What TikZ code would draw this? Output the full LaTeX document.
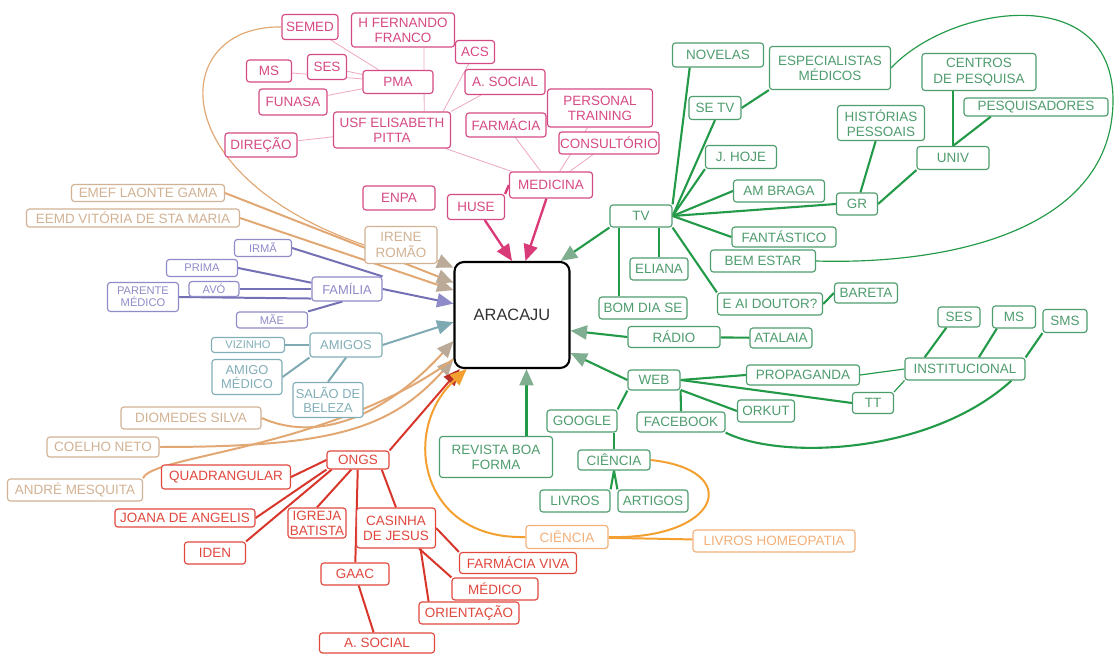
\documentclass[tikz,border=0pt]{standalone}
\usepackage{fontspec}
\setmainfont{Liberation Sans}
\usetikzlibrary{arrows.meta,backgrounds}

\definecolor{pinktext}{HTML}{D64A84}
\definecolor{pinkline}{HTML}{D93A78}
\definecolor{pinkpale}{HTML}{EDA9C2}
\definecolor{tantext}{HTML}{D2B294}
\definecolor{tanline}{HTML}{E2A874}
\definecolor{tanhead}{HTML}{BBAA98}
\definecolor{purpletext}{HTML}{8F8BC8}
\definecolor{purpleline}{HTML}{7470B5}
\definecolor{tealtext}{HTML}{82AEB8}
\definecolor{tealline}{HTML}{7FA9B3}
\definecolor{redtext}{HTML}{E0483E}
\definecolor{redline}{HTML}{D8352B}
\definecolor{orangetext}{HTML}{F2B07A}
\definecolor{orangeline}{HTML}{F3A030}
\definecolor{greentext}{HTML}{4F9C6E}
\definecolor{greenline}{HTML}{239A48}
\definecolor{greenhead}{HTML}{7FAE90}

\tikzset{
  box/.style={draw, rounded corners=2.5pt, fill=white, line width=1pt, align=center,
    inner xsep=1pt, inner ysep=1pt, font=\fontsize{11.5}{13}\selectfont},
  sz/.style 2 args={minimum width={#1*0.03cm}, minimum height={#2*0.03cm}},
  pinkbox/.style={box, draw=pinktext, text=pinktext},
  tanbox/.style={box, draw=tantext, text=tantext},
  purplebox/.style={box, draw=purpletext, text=purpletext, font=\fontsize{9.5}{10.5}\selectfont},
  tealbox/.style={box, draw=tealtext, text=tealtext, font=\fontsize{11}{12}\selectfont},
  redbox/.style={box, draw=redtext, text=redtext},
  orangebox/.style={box, draw=orangetext, text=orangetext},
  greenbox/.style={box, draw=greentext, text=greentext},
  centerbox/.style={draw=black, line width=1.8pt, rounded corners=8pt, fill=white,
    text=black!80, font=\fontsize{14}{16}\selectfont},
  tip/.style={-{Triangle[length=14pt,width=12pt,#1]}},
  pinkthin/.style={draw=pinkpale, line width=0.7pt},
  pinklink/.style={draw=pinkline, line width=2pt},
  pinkarrow/.style={pinklink, tip={color=pinkline}},
  tanthin/.style={draw=tanline, line width=1pt},
  tanarrow/.style={draw=tanline, line width=1.7pt, tip={color=tanhead}},
  purplelink/.style={draw=purpleline, line width=1.7pt},
  purplearrow/.style={purplelink, tip={color=purpletext}},
  teallink/.style={draw=tealline, line width=1.7pt},
  tealarrow/.style={teallink, tip={color=tealline}},
  redlink/.style={draw=redline, line width=1.7pt},
  redarrow/.style={redlink, tip={color=redline!85!black}},
  orangelink/.style={draw=orangeline, line width=1.7pt},
  orangearrow/.style={orangelink, tip={color=orangeline}},
  greenlink/.style={draw=greenline, line width=1.8pt},
  greenthin/.style={draw=greenline, line width=1pt},
  greenarrow/.style={greenlink, tip={color=greenhead}}
}

\begin{document}
\begin{tikzpicture}[x=0.03cm, y=-0.03cm]
  \useasboundingbox (0,0) rectangle (1116,655);

  \node[centerbox, sz={115}{106}] (aracaju) at (512,315) {ARACAJU};

  \node[pinkbox, sz={56}{25}] (semed) at (310,27) {SEMED};
  \node[pinkbox, sz={103}{34}] (hfernando) at (403,30) {H FERNANDO\\FRANCO};
  \node[pinkbox, sz={39}{23}] (acs) at (475,52) {ACS};
  \node[pinkbox, sz={45}{22}] (msp) at (269,71) {MS};
  \node[pinkbox, sz={39}{25}] (sesp) at (327,67) {SES};
  \node[pinkbox, sz={70}{23}] (pma) at (398,82) {PMA};
  \node[pinkbox, sz={80}{25}] (asocial) at (505,82) {A. SOCIAL};
  \node[pinkbox, sz={68}{26}] (funasa) at (293,102) {FUNASA};
  \node[pinkbox, sz={105}{38}] (personal) at (600,108) {PERSONAL\\TRAINING};
  \node[pinkbox, sz={117}{36}] (usf) at (392,130) {USF ELISABETH\\PITTA};
  \node[pinkbox, sz={80}{24}] (farmacia) at (506,125) {FARMÁCIA};
  \node[pinkbox, sz={72}{24}] (direcao) at (261,145) {DIREÇÃO};
  \node[pinkbox, sz={84}{22}] (consultorio) at (609,143) {CONSULTÓRIO};
  \node[pinkbox, sz={83}{26}] (medicina) at (551,185) {MEDICINA};
  \node[pinkbox, sz={72}{24}] (enpa) at (399,198) {ENPA};
  \node[pinkbox, sz={57}{25}] (huse) at (476,207) {HUSE};

  \node[tanbox, sz={153}{17}] (emef) at (148,193) {EMEF LAONTE GAMA};
  \node[tanbox, sz={213}{18}] (eemd) at (133,218) {EEMD VITÓRIA DE STA MARIA};
  \node[tanbox, sz={72}{37}] (irene) at (401,245) {IRENE\\ROMÃO};
  \node[tanbox, sz={140}{22}] (diomedes) at (191,418) {DIOMEDES SILVA};
  \node[tanbox, sz={112}{20}] (coelho) at (103,447) {COELHO NETO};
  \node[tanbox, sz={135}{22}] (andre) at (75,490) {ANDRÉ MESQUITA};

  \node[purplebox, sz={57}{17}] (irma) at (263,248) {IRMÃ};
  \node[purplebox, sz={71}{17}] (prima) at (202,268) {PRIMA};
  \node[purplebox, sz={50}{15}] (avo) at (214,289) {AVÓ};
  \node[purplebox, sz={71}{29}] (parente) at (143,297) {PARENTE\\MÉDICO};
  \node[purplebox, sz={70}{24}, font=\fontsize{11}{12}\selectfont] (familia) at (347,289) {FAMÍLIA};
  \node[purplebox, sz={71}{16}] (mae) at (272,320) {MÃE};

  \node[tealbox, sz={73}{15}, font=\fontsize{9.5}{10.5}\selectfont] (vizinho) at (248,345) {VIZINHO};
  \node[tealbox, sz={72}{24}] (amigos) at (346,345) {AMIGOS};
  \node[tealbox, sz={70}{35}] (amigomedico) at (247,377) {AMIGO\\MÉDICO};
  \node[tealbox, sz={70}{35}] (salao) at (328,400) {SALÃO DE\\BELEZA};

  \node[redbox, sz={62}{18}] (ongs) at (358,460) {ONGS};
  \node[redbox, sz={129}{24}] (quadrangular) at (226,477) {QUADRANGULAR};
  \node[redbox, sz={140}{18}] (joana) at (185,518) {JOANA DE ANGELIS};
  \node[redbox, sz={61}{22}] (iden) at (215,553) {IDEN};
  \node[redbox, sz={58}{30}] (igreja) at (317,523) {IGREJA\\BATISTA};
  \node[redbox, sz={79}{40}] (casinha) at (396,528) {CASINHA\\DE JESUS};
  \node[redbox, sz={68}{22}] (gaac) at (355,574) {GAAC};
  \node[redbox, sz={117}{21}] (farmaciaviva) at (518,563) {FARMÁCIA VIVA};
  \node[redbox, sz={86}{22}] (medico) at (495,589) {MÉDICO};
  \node[redbox, sz={100}{22}] (orientacao) at (469,613) {ORIENTAÇÃO};
  \node[redbox, sz={115}{20}] (asocialr) at (377,643) {A. SOCIAL};

  \node[orangebox, sz={82}{23}] (cienciao) at (567,537) {CIÊNCIA};
  \node[orangebox, sz={162}{22}] (livroshomeo) at (774,541) {LIVROS HOMEOPATIA};

  \node[greenbox, sz={91}{24}] (novelas) at (718,55) {NOVELAS};
  \node[greenbox, sz={121}{43}] (especialistas) at (830,68) {ESPECIALISTAS\\MÉDICOS};
  \node[greenbox, sz={52}{23}] (setv) at (715,108) {SE TV};
  \node[greenbox, sz={114}{37}] (centros) at (979,72) {CENTROS\\DE PESQUISA};
  \node[greenbox, sz={144}{18}] (pesquisadores) at (1036,107) {PESQUISADORES};
  \node[greenbox, sz={87}{35}] (historias) at (881,123) {HISTÓRIAS\\PESSOAIS};
  \node[greenbox, sz={71}{23}] (jhoje) at (741,157) {J. HOJE};
  \node[greenbox, sz={72}{23}] (univ) at (953,158) {UNIV};
  \node[greenbox, sz={91}{22}] (ambraga) at (779,191) {AM BRAGA};
  \node[greenbox, sz={41}{22}] (gr) at (857,204) {GR};
  \node[greenbox, sz={62}{22}] (tv) at (641,216) {TV};
  \node[greenbox, sz={104}{20}] (fantastico) at (784,237) {FANTÁSTICO};
  \node[greenbox, sz={105}{22}] (bemestar) at (763,261) {BEM ESTAR};
  \node[greenbox, sz={58}{22}] (eliana) at (659,269) {ELIANA};
  \node[greenbox, sz={105}{22}] (eaidoutor) at (770,304) {E AI DOUTOR?};
  \node[greenbox, sz={63}{20}] (bareta) at (866,293) {BARETA};
  \node[greenbox, sz={88}{22}] (bomdiase) at (643,308) {BOM DIA SE};
  \node[greenbox, sz={92}{21}] (radio) at (674,337) {RÁDIO};
  \node[greenbox, sz={62}{20}] (atalaia) at (781,338) {ATALAIA};
  \node[greenbox, sz={42}{20}] (sesg) at (959,317) {SES};
  \node[greenbox, sz={43}{22}] (msg) at (1014,317) {MS};
  \node[greenbox, sz={44}{23}] (sms) at (1065,321) {SMS};
  \node[greenbox, sz={120}{22}] (institucional) at (965,369) {INSTITUCIONAL};
  \node[greenbox, sz={52}{20}] (web) at (654,380) {WEB};
  \node[greenbox, sz={113}{20}] (propaganda) at (803,375) {PROPAGANDA};
  \node[greenbox, sz={41}{21}] (tt) at (873,403) {TT};
  \node[greenbox, sz={57}{22}] (orkut) at (766,411) {ORKUT};
  \node[greenbox, sz={70}{22}] (google) at (582,421) {GOOGLE};
  \node[greenbox, sz={88}{20}] (facebook) at (681,422) {FACEBOOK};
  \node[greenbox, sz={113}{41}] (revista) at (496,457) {REVISTA BOA\\FORMA};
  \node[greenbox, sz={72}{20}] (cienciag) at (614,460) {CIÊNCIA};
  \node[greenbox, sz={70}{22}] (livros) at (575,501) {LIVROS};
  \node[greenbox, sz={70}{22}] (artigos) at (653,501) {ARTIGOS};

  \begin{scope}[on background layer]
    \draw[pinkthin] (semed) -- (pma);
    \draw[pinkthin] (sesp) -- (pma);
    \draw[pinkthin] (msp) -- (pma);
    \draw[pinkthin] (funasa) -- (pma);
    \draw[pinkthin] (hfernando.-40) -- (usf.30);
    \draw[pinkthin] (acs) -- (usf.20);
    \draw[pinkthin] (asocial) -- (usf.north east);
    \draw[pinkthin] (direcao) -- (usf);
    \draw[pinkthin] (usf) -- (medicina);
    \draw[pinkthin] (farmacia) -- (medicina);
    \draw[pinkthin] (personal) -- (medicina);
    \draw[pinkthin] (consultorio) -- (medicina);
    \draw[pinklink] (medicina.west) -- (huse.north east);
    \draw[pinkarrow] (huse) -- (aracaju.90);
    \draw[pinkarrow] (medicina) -- (aracaju.76);

    \draw[tanthin] (semed.west) .. controls (170,25) and (160,175) .. (irene.west);
    \draw[tanarrow] (emef.east) -- (aracaju.151);
    \draw[tanarrow] (eemd.east) -- (aracaju.157);
    \draw[tanarrow] (irene) -- (aracaju.141);
    \draw[tanarrow] (diomedes.east) .. controls (330,448) and (400,400) .. (aracaju.204);
    \draw[tanarrow] (coelho.east) .. controls (330,447) and (390,430) .. (aracaju.217);
    \draw[tanthin, line width=1.7pt] (andre.north east) .. controls (150,455) and (330,450) .. (aracaju.217);

    \draw[purplelink] (irma.east) -- (familia.north east);
    \draw[purplelink] (prima.east) -- (familia.170);
    \draw[purplelink] (avo.east) -- (familia.west);
    \draw[purplelink] (parente.east) -- (familia.195);
    \draw[purplelink] (mae.north east) -- (familia.250);
    \draw[purplearrow] (familia.east) -- (aracaju.169);

    \draw[teallink] (vizinho.east) -- (amigos.west);
    \draw[teallink] (amigomedico.east) -- (amigos.south west);
    \draw[teallink] (salao.north) -- (amigos.south);
    \draw[tealarrow] (amigos.east) -- (aracaju.187);

    \draw[redarrow] (ongs.north east) -- (aracaju.226);
    \draw[redlink] (quadrangular.east) -- (ongs.west);
    \draw[redlink] (joana.east) -- (ongs.south west);
    \draw[redlink] (iden.north east) -- (ongs.200);
    \draw[redlink] (igreja.north) -- (ongs.235);
    \draw[redlink] (ongs) -- (gaac);
    \draw[redlink] (gaac) -- (asocialr);
    \draw[redlink] (ongs.-22) -- (casinha.north);
    \draw[redlink] (casinha.east) -- (farmaciaviva.north west);
    \draw[redlink] (casinha) -- (medico.north west);
    \draw[redlink] (casinha.-40) -- (orientacao.164);

    \draw[orangearrow] (cienciao.west) .. controls (420,540) and (400,430) .. (aracaju.230);
    \draw[orangelink] (cienciao.east) .. controls (720,540) and (745,470) .. (cienciag.east);
    \draw[orangelink] (cienciao) -- (livroshomeo);

    \draw[greenarrow] (tv.south west) -- (aracaju.48);
    \draw[greenarrow] (radio.west) -- (aracaju.-15);
    \draw[greenarrow] (web.west) -- (aracaju.-33);
    \draw[greenarrow] (revista.north -| aracaju.285) -- (aracaju.285);
    \draw[greenlink] (tv.north east) -- (novelas.204);
    \draw[greenlink] (tv.east) -- (setv.south);
    \draw[greenlink] (tv.east) -- (jhoje.south west);
    \draw[greenlink] (tv.east) -- (ambraga.west);
    \draw[greenlink] (tv.east) -- (gr.west);
    \draw[greenlink] (tv.east) -- (fantastico.west);
    \draw[greenlink] (tv.south east) -- (eaidoutor.north west);
    \draw[greenlink] (eliana.north) -- (tv.south -| eliana.north);
    \draw[greenlink] (bomdiase.154) -- (tv.south -| bomdiase.154);
    \draw[greenlink] (setv.east) -- (especialistas.south west);
    \draw[greenlink] (gr) -- (historias);
    \draw[greenlink] (gr.east) -- (univ.south west);
    \draw[greenlink] (univ.north) -- (centros.south -| univ.north);
    \draw[greenlink] (univ.north) -- (pesquisadores.192);
    \draw[greenlink] (eaidoutor.east) -- (bareta.west);
    \draw[greenthin] (especialistas.east) .. controls (950,5) and (1113,-20) .. (1113,100)
      .. controls (1113,230) and (950,265) .. (bemestar.east);
    \draw[greenlink] (radio) -- (atalaia);
    \draw[greenlink] (web.east) -- (propaganda.west);
    \draw[greenlink] (web.east) -- (tt.west);
    \draw[greenlink] (web) -- (orkut.west);
    \draw[greenlink] (web.south east) -- (facebook.north);
    \draw[greenlink] (web.south west) -- (google.north east);
    \draw[greenlink] (cienciag.north) -- (cienciag.north |- google.south);
    \draw[greenlink] (cienciag.south) -- (livros.north east);
    \draw[greenlink] (cienciag.south) -- (artigos.north west);
    \draw[greenthin] (propaganda.east) -- (institucional.west);
    \draw[greenthin] (tt.north east) -- (institucional.south west);
    \draw[greenlink] (institucional.164) -- (sesg.220);
    \draw[greenlink] (institucional.40) -- (msg.214);
    \draw[greenlink] (institucional.north east) -- (sms.south west);
    \draw[greenlink] (facebook.south east) .. controls (780,460) and (930,455) .. (institucional.-14);
  \end{scope}
\end{tikzpicture}
\end{document}
